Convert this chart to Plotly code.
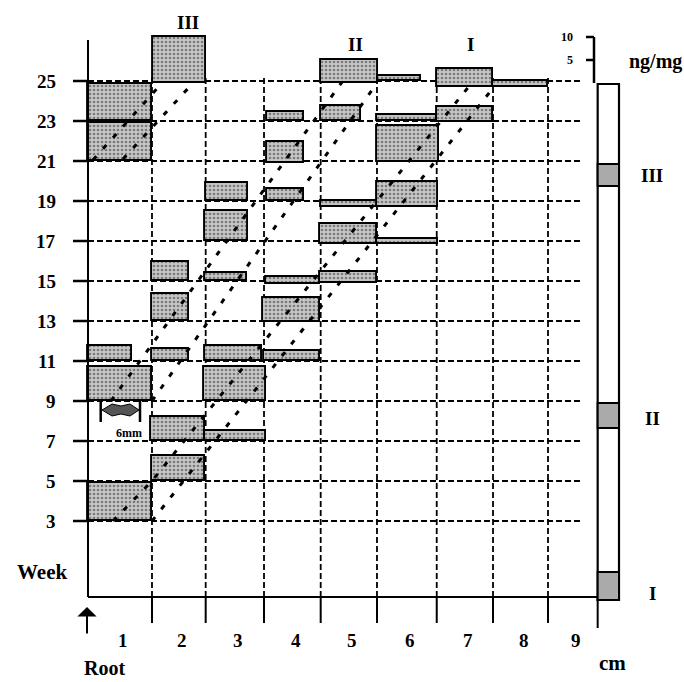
import plotly.graph_objects as go

# ---------------- data ----------------
weeks = [3, 5, 7, 9, 11, 13, 15, 17, 19, 21, 23, 25]
seg_labels = ["1", "2", "3", "4", "5", "6", "7", "8", "9"]
# segment boundaries along the root (cm), as drawn
seg_edges = [0, 1.130, 2.078, 3.108, 4.109, 5.103, 6.158, 7.152, 8.123, 9.0]

# concentration bars: start / end along root (cm), week baseline, ng/mg
bar_x0 = [0, 0, 1.142, 2.078, 3.156, 3.156, 3.156, 2.071, 1.135, 2.071, 3.143, 4.097,
          1.135, 3.096, 0, 1.135, 2.066, 3.113, 0, 2.054, 1.107, 2.066, 1.125, 0,
          4.109, 5.126, 6.158, 7.146, 4.109, 5.109, 6.158, 5.109, 5.109, 4.109, 4.097, 5.098]
bar_x1 = [1.130, 1.130, 2.084, 2.820, 3.809, 3.809, 3.809, 2.820, 1.784, 2.813, 4.097, 5.098,
          1.784, 4.097, 0.772, 1.778, 3.078, 4.097, 1.135, 3.138, 2.066, 3.138, 2.066, 1.125,
          5.126, 5.880, 7.146, 8.123, 4.815, 6.158, 7.146, 6.193, 6.175, 5.098, 5.098, 6.175]
bar_week = [23.0, 21.0, 24.9, 19.0, 23.0, 20.9, 19.0, 17.0, 15.0, 15.0, 14.87, 14.9,
            13.0, 12.95, 11.0, 11.0, 11.0, 11.0, 9.0, 9.0, 7.0, 7.0, 5.0, 3.0,
            24.9, 25.0, 24.7, 24.7, 23.0, 23.0, 22.95, 20.95, 18.72, 18.72, 16.85, 16.83]
bar_conc = [8.0, 8.2, 10.0, 3.9, 1.9, 4.5, 2.6, 6.5, 4.2, 1.8, 1.4, 2.5,
            5.8, 5.2, 3.3, 2.6, 3.3, 2.2, 7.4, 7.4, 5.2, 2.2, 5.5, 8.3,
            5.1, 1.1, 4.0, 1.3, 3.3, 1.3, 3.3, 7.9, 5.4, 1.2, 4.3, 1.2]

# dotted trajectories of root zones I, II, III (cm along root, week)
traj_x = [[0.441, 1.130, 6.746], [1.130, 7.152],
          [0.406, 4.485], [1.130, 5.103],
          [0.088, 1.307], [0.618, 1.854]]
traj_w = [[3.0, 5.0, 24.8], [3.0, 24.65],
          [9.0, 24.95], [9.0, 24.9],
          [21.05, 24.9], [21.1, 24.9]]

# root zones on the right-hand root bar (week scale)
zone_labels = ["I", "II", "III"]
zone_lo = [-0.95, 7.65, 19.75]
zone_hi = [0.45, 8.9, 20.85]

# ---------------- drawing helpers (pixel -> data) ----------------
W, H = 684, 682
X0PX, CMPX = 88.0, 56.63
Y3PX, WKPX = 521.0, 20.0
K = 0.23   # week units per ng/mg in the drawing


def px2x(px):
    return (px - X0PX) / CMPX


def py2y(py):
    return 3 + (Y3PX - py) / WKPX


FONT = "Liberation Serif"
BOTTOM = py2y(597)
fig = go.Figure()

shapes = []
dash = "6px,3px"
# horizontal grid (dashed) and solid ticks on the left
for w in weeks:
    shapes.append(dict(type="line", x0=px2x(73), x1=0, y0=w, y1=w,
                       line=dict(color="black", width=2.5), layer="below"))
    shapes.append(dict(type="line", x0=0, x1=px2x(582), y0=w, y1=w,
                       line=dict(color="black", width=1.8, dash=dash), layer="below"))
# vertical dashed
for e in seg_edges[1:-1]:
    shapes.append(dict(type="line", x0=e, x1=e, y0=BOTTOM, y1=25.3,
                       line=dict(color="black", width=1.8, dash=dash), layer="below"))
# axes
shapes.append(dict(type="line", x0=0, x1=0, y0=BOTTOM, y1=py2y(40),
                   line=dict(color="black", width=2)))
shapes.append(dict(type="line", x0=0, x1=seg_edges[-1], y0=BOTTOM, y1=BOTTOM,
                   line=dict(color="black", width=2)))
for e in seg_edges[1:]:
    shapes.append(dict(type="line", x0=e, x1=e, y0=BOTTOM,
                       y1=py2y(628 if e == seg_edges[-1] else 623),
                       line=dict(color="black", width=2)))

# root bar on the right
RB0, RB1 = seg_edges[-1], px2x(619)
shapes.append(dict(type="rect", x0=RB0, x1=RB1, y0=py2y(600), y1=py2y(84),
                   fillcolor="white", line=dict(color="black", width=2.2)))
for lo, hi in zip(zone_lo, zone_hi):
    shapes.append(dict(type="rect", x0=RB0, x1=RB1, y0=lo, y1=hi,
                       fillcolor="#aaaaaa", line=dict(color="black", width=2)))

# ng/mg scale bracket
SB = px2x(594)
sb_base = py2y(83)
shapes.append(dict(type="line", x0=SB, x1=SB, y0=sb_base, y1=sb_base + 10 * K,
                   line=dict(color="black", width=2.5)))
for v in (5, 10):
    shapes.append(dict(type="line", x0=px2x(586), x1=SB, y0=sb_base + v * K, y1=sb_base + v * K,
                       line=dict(color="black", width=2.5)))

# 6 mm scale marker
for p in (100.7, 140):
    shapes.append(dict(type="line", x0=px2x(p), x1=px2x(p), y0=py2y(400), y1=py2y(422),
                       line=dict(color="black", width=2.5)))
pts = [(102, 410), (112, 404), (121, 406), (130, 404), (139, 410), (130, 416), (121, 414), (112, 416)]
path = "M " + " L ".join(f"{px2x(a):.4f},{py2y(b):.4f}" for a, b in pts) + " Z"
shapes.append(dict(type="path", path=path, fillcolor="#555555", line=dict(color="black", width=1)))

# concentration bars
cx = [(a + b) / 2 for a, b in zip(bar_x0, bar_x1)]
wd = [b - a for a, b in zip(bar_x0, bar_x1)]
hy = [c * K for c in bar_conc]
fig.add_trace(go.Bar(
    x=cx, y=hy, base=bar_week, width=wd,
    marker=dict(color="#c4c4c4", line=dict(color="black", width=1.9),
                pattern=dict(shape=".", fgcolor="#2e2e2e", bgcolor="#c6c6c6",
                             size=4, solidity=0.35)),
    hoverinfo="skip", showlegend=False))

# dotted trajectories
for xs, ws in zip(traj_x, traj_w):
    fig.add_trace(go.Scatter(x=xs, y=ws, mode="lines",
                             line=dict(color="black", width=3, dash="5px,10px"),
                             hoverinfo="skip", showlegend=False))

ann = []


def txt(x, y, s, size, xanchor="center"):
    ann.append(dict(x=x, y=y, text=s, showarrow=False, xanchor=xanchor, yanchor="middle",
                    font=dict(family=FONT, size=size, color="black", weight="bold")))


for w in weeks:
    txt(px2x(58), w, str(w), 19, "right")
for i, lab in enumerate(seg_labels):
    txt((seg_edges[i] + seg_edges[i + 1]) / 2 + 0.06, py2y(640), lab, 19)
txt(px2x(42), py2y(572), "Week", 21)
txt(px2x(104), py2y(668), "Root", 20)
txt(px2x(612), py2y(663), "cm", 21)
txt(px2x(188), py2y(22), "III", 19)
txt(px2x(355), py2y(44), "II", 19)
txt(px2x(470), py2y(44), "I", 19)
txt(px2x(575), sb_base + 10 * K, "10", 12, "right")
txt(px2x(575), sb_base + 5 * K, "5", 12, "right")
txt(px2x(655), py2y(61), "ng/mg", 20)
txt(px2x(129), py2y(433), "6mm", 12)
zone_label_py = {"I": 593, "II": 418, "III": 175}
for lab in zone_labels:
    txt(px2x(652), py2y(zone_label_py[lab]), lab, 19)

# root tip arrow
ann.append(dict(x=px2x(87), y=py2y(607), ax=0, ay=28, text="", showarrow=True,
                arrowhead=1, arrowsize=1.6, arrowwidth=2, arrowcolor="black",
                xref="x", yref="y"))

fig.update_layout(
    width=W, height=H, margin=dict(l=0, r=0, t=0, b=0), autosize=False,
    paper_bgcolor="white", plot_bgcolor="white", shapes=shapes, annotations=ann,
    xaxis=dict(range=[px2x(0), px2x(W)], visible=False, fixedrange=True),
    yaxis=dict(range=[py2y(H), py2y(0)], visible=False, fixedrange=True),
    bargap=0, showlegend=False,
)
fig.write_html("out.html")
